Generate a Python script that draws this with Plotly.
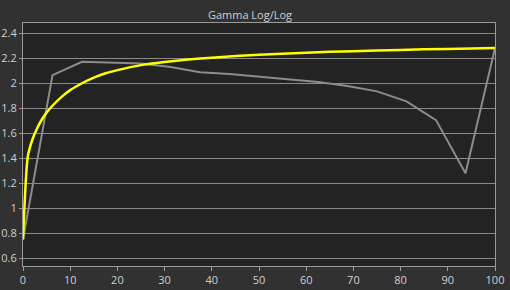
import plotly.graph_objects as go

# Measured gamma (grey) at 6.25% steps
meas_x = [0, 6.25, 12.5, 18.75, 25, 31.25, 37.5, 43.75, 50, 56.25, 62.5, 68.75, 75, 81.25, 87.5, 93.75, 100]
meas_y = [0.75, 2.065, 2.172, 2.168, 2.158, 2.13, 2.088, 2.075, 2.055, 2.032, 2.01, 1.978, 1.935, 1.855, 1.705, 1.28, 2.28]

# Target gamma (yellow)
tgt_x = [0, 1, 2, 3, 4, 5, 6, 8, 10, 12.5, 15, 17.5, 20, 25, 30, 35, 40, 50, 60, 70, 80, 90, 100]
tgt_y = [0.75, 1.41, 1.55, 1.64, 1.71, 1.765, 1.81, 1.885, 1.945, 2.0, 2.045, 2.08, 2.105, 2.145, 2.17, 2.19, 2.205, 2.228, 2.245, 2.257, 2.267, 2.275, 2.282]

y_ticks = [0.6, 0.8, 1.0, 1.2, 1.4, 1.6, 1.8, 2.0, 2.2, 2.4]
y_labels = ["0.6", "0.8", "1", "1.2", "1.4", "1.6", "1.8", "2", "2.2", "2.4"]
x_ticks = [0, 10, 20, 30, 40, 50, 60, 70, 80, 90, 100]

fig = go.Figure()
fig.add_trace(go.Scatter(x=meas_x, y=meas_y, mode="lines",
                         line=dict(color="#8c8c8c", width=2), showlegend=False))
fig.add_trace(go.Scatter(x=tgt_x, y=tgt_y, mode="lines", line_shape="spline",
                         line=dict(color="#ffff00", width=2.5, smoothing=0.6), showlegend=False))

font = dict(family="Open Sans, Noto Sans, sans-serif", size=11, color="#cfcfcf")
fig.update_layout(
    width=510, height=290,
    margin=dict(l=23, r=15, t=23, b=24, autoexpand=False),
    paper_bgcolor="#313131", plot_bgcolor="#232323",
    font=font,
    title=dict(text="Gamma Log/Log", x=250/510, xanchor="center", y=1 - 15/290, yanchor="middle",
               font=dict(family="Open Sans, Noto Sans, sans-serif", size=11, color="#cfcfcf")),
    xaxis=dict(range=[0, 100], tickvals=x_ticks, showgrid=False, zeroline=False, automargin=False,
               showline=True, linecolor="#9a9a9a", linewidth=1, mirror=True,
               ticks="outside", ticklen=4, tickcolor="#9a9a9a", tickfont=font),
    yaxis=dict(range=[0.538, 2.482], tickvals=y_ticks, ticktext=y_labels, automargin=False,
               showgrid=True, gridcolor="#8a8a8a", gridwidth=1, zeroline=False,
               showline=True, linecolor="#9a9a9a", linewidth=1, mirror=True,
               ticks="outside", ticklen=3, tickcolor="#9a9a9a", tickfont=font),
)
fig.write_html("out.html")
